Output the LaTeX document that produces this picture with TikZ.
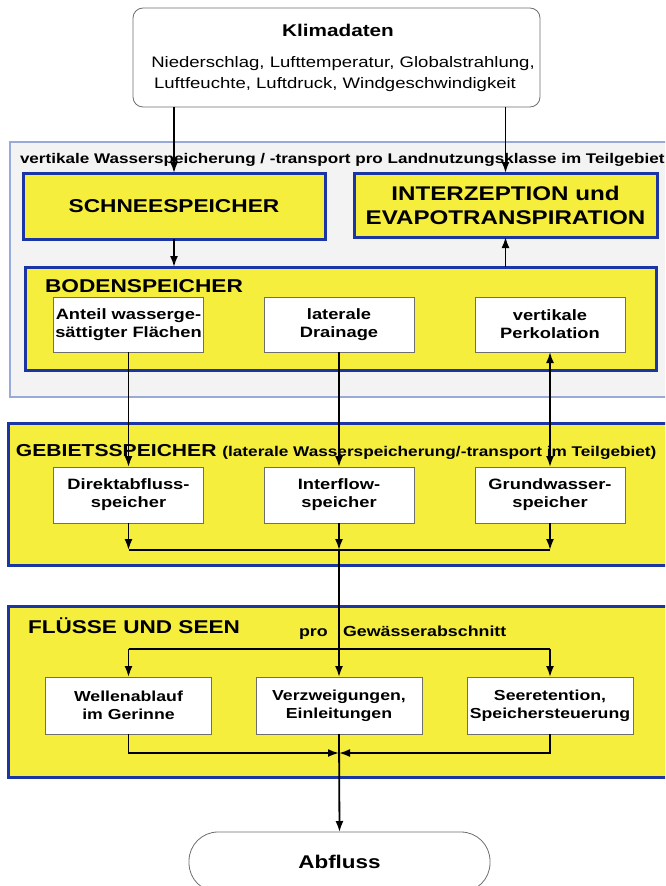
\documentclass[tikz,border=0pt]{standalone}
\usepackage{fontspec}
\setmainfont{Liberation Sans}[FakeStretch=1.22]
\usetikzlibrary{arrows.meta}
\definecolor{yel}{HTML}{F5EE3C}
\definecolor{dblue}{HTML}{1C35A5}
\definecolor{lblue}{HTML}{9AAAD8}
\definecolor{lgray}{HTML}{F4F3F3}
\definecolor{bgray}{HTML}{6E6E6E}
\newcommand\myfs[2]{\fontsize{#1}{#2}\selectfont}
\begin{document}
\begin{tikzpicture}[x=1pt,y=-1pt,
  every node/.style={inner sep=0pt, outer sep=0pt},
  secbox/.style={draw=dblue, line width=3pt, fill=yel, anchor=north west},
  wbox/.style={draw=bgray, line width=0.8pt, fill=white, anchor=north, minimum width=150pt, minimum height=55pt, align=center, font=\myfs{15}{18}\bfseries},
  fbox/.style={wbox, minimum width=166pt, minimum height=57pt, font=\myfs{14.5}{18}\bfseries},
  lbl/.style={anchor=base west},
  conn/.style={line width=1.8pt},
  arr/.style={conn, -{Latex[length=11pt,width=8pt]}},
  darr/.style={conn, {Latex[length=11pt,width=8pt]}-{Latex[length=11pt,width=8pt]}},
]
\useasboundingbox (0,0) rectangle (665,886);
\clip (0,0) rectangle (665,886);

% Klimadaten
\node[draw=bgray, line width=0.8pt, fill=white, rounded corners=10pt, anchor=north west, minimum width=407pt, minimum height=99pt] (klima) at (133,8) {};
\node[anchor=base, font=\myfs{17}{20}\bfseries] (klimaT) at (338,36) {Klimadaten};
\node[anchor=base, font=\myfs{15.2}{20}] (klimaS1) at (343,67) {Niederschlag, Lufttemperatur, Globalstrahlung,};
\node[anchor=base, font=\myfs{15.2}{20}] (klimaS2) at (335,88) {Luftfeuchte, Luftdruck, Windgeschwindigkeit};

% vertical section
\node[draw=lblue, line width=1.2pt, fill=lgray, anchor=north west, minimum width=660pt, minimum height=255pt] (vert) at (10,142) {};
\node[lbl, font=\myfs{14}{16}\bfseries] (vtitle) at (20,163) {vertikale Wasserspeicherung / -transport pro Landnutzungsklasse im Teilgebiet};
\node[secbox, minimum width=302pt, minimum height=66pt, font=\myfs{18.6}{22}\bfseries] (schnee) at (23,173) {SCHNEESPEICHER};
\node[secbox, minimum width=303pt, minimum height=64pt, align=center, font=\myfs{19.8}{24}\bfseries] (interz) at (354,173) {INTERZEPTION und\\EVAPOTRANSPIRATION};
\node[secbox, minimum width=631pt, minimum height=103pt] (boden) at (25,267) {};
\node[lbl, font=\myfs{18.6}{20}\bfseries] (bodenL) at (45,292) {BODENSPEICHER};
\node[wbox] (anteil) at (128.5,297) {Anteil wasserge-\\sättigter Flächen};
\node[wbox] (drain) at (339,297) {laterale\\Drainage};
\node[wbox] (perk) at (550,297) {vertikale\\Perkolation};

% Gebietsspeicher
\node[secbox, minimum width=662pt, minimum height=142pt] (gebiet) at (8,423) {};
\node[lbl] (gebL) at (16,456) {\myfs{17.3}{20}\bfseries GEBIETSSPEICHER \myfs{14.1}{16}(laterale Wasserspeicherung/-transport im Teilgebiet)};
\node[wbox, minimum height=56pt] (direkt) at (128.5,467) {Direktabfluss-\\speicher};
\node[wbox, minimum height=56pt] (interf) at (339,467) {Interflow-\\speicher};
\node[wbox, minimum height=56pt] (grund) at (550,467) {Grundwasser-\\speicher};

% Fluesse und Seen
\node[secbox, minimum width=662pt, minimum height=171pt] (fluss) at (8,606) {};
\node[lbl, font=\myfs{18.5}{20}\bfseries] (flussL) at (28,633) {FLÜSSE UND SEEN};
\node[lbl, font=\myfs{14.6}{16}\bfseries] (proL) at (299,636) {pro};
\node[lbl, font=\myfs{14.6}{16}\bfseries] (gewL) at (343,636) {Gewässerabschnitt};
\node[fbox] (wellen) at (128.5,677) {Wellenablauf\\im Gerinne};
\node[fbox] (verzw) at (339,677) {Verzweigungen,\\Einleitungen};
\node[fbox] (see) at (550,677) {Seeretention,\\Speichersteuerung};

% Abfluss
\node[draw=bgray, line width=0.8pt, fill=white, rounded corners=29pt, anchor=north west, minimum width=301pt, minimum height=60pt, font=\myfs{18.4}{20}\bfseries] (abfl) at (189,832) {Abfluss};

% connectors
\draw[arr] (klima.south -| schnee.north) -- (schnee.north);
\draw[arr] (klima.south -| interz.north) -- (interz.north);
\draw[arr] (schnee.south) -- (schnee.south |- boden.north);
\draw[arr] (interz.south |- boden.north) -- (interz.south);
\draw[arr] (anteil.south) -- (direkt.north);
\draw[arr] (drain.south) -- (interf.north);
\draw[darr] (perk.south) -- (grund.north);

\coordinate (c1) at (128.5,550);
\coordinate (c2) at (339,550);
\coordinate (c3) at (550,550);
\draw[arr] (direkt.south) -- (c1);
\draw[arr] (interf.south) -- (c2);
\draw[arr] (grund.south) -- (c3);
\draw[conn] (c1) -- (c3);

\coordinate (d1) at (128.5,649);
\coordinate (d2) at (339,649);
\coordinate (d3) at (550,649);
\draw[conn] (c2) -- (d2);
\draw[conn] (d1) -- (d3);
\draw[arr] (d1) -- (wellen.north);
\draw[arr] (d2) -- (verzw.north);
\draw[arr] (d3) -- (see.north);

\coordinate (e1) at (128.5,753);
\coordinate (e2) at (339,753);
\coordinate (e3) at (550,753);
\draw[arr] (wellen.south) -- (e1) -- (e2);
\draw[arr] (see.south) -- (e3) -- (e2);
\draw[arr] (verzw.south) -- (abfl.north);
\end{tikzpicture}
\end{document}
